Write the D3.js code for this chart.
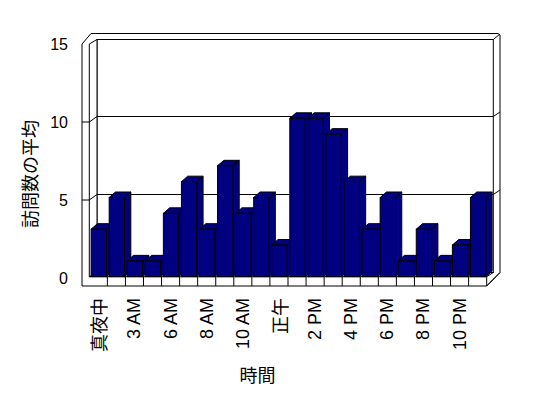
<!DOCTYPE html>
<html>
<head>
<meta charset="utf-8">
<script src="https://cdn.jsdelivr.net/npm/d3@7"></script>
<style>
  html, body { margin: 0; padding: 0; background: #fff; }
  svg { display: block; }
  text { fill: #000; }
</style>
</head>
<body>
<svg id="chart" width="548" height="398"></svg>
<script>
// ---- data ----
const categories = ["真夜中","1 AM","3 AM","5 AM","6 AM","7 AM","8 AM","9 AM","10 AM","11 AM","正午",
                    "1 PM","2 PM","3 PM","4 PM","5 PM","6 PM","7 PM","8 PM","9 PM","10 PM","11 PM"];
const values = [3,5,1,1,4,6,3,7,4,5,2,10,10,9,6,3,5,1,3,1,2,5];
const yTicks = [0,5,10,15];
const yTitle = "訪問数の平均";
const xTitle = "時間";

// ---- layout ----
const svg = d3.select("#chart");
const FONT_LATIN = "'Liberation Sans', Arial, 'Noto Sans CJK JP', sans-serif";
const FONT_CJK = "'Noto Sans CJK JP', 'Noto Sans CJK SC', sans-serif";
const BAR_FILL = "#000080";

const xOutL = 82, xInL = 89.3, xFloorR = 486.7, xBackR = 493.3, xOutR = 500;
const wallDX = 7.7, wallDY = -5.5;     // depth offset of the back wall
const barDX = 6.3, barDY = -5.5;       // depth offset of each column
const yFloorFront = 276.7, yFloorBottom = 286, yTopOuter = 33.5;

const x = d3.scaleBand().domain(categories).range([xInL, xFloorR]).padding(0);
const yAxisFront = d3.scaleLinear().domain([0, 15]).range([278, 44]);
const yBar = d3.scaleLinear().domain([0, 15]).range([yFloorFront, yFloorFront - 15.84 * 15]);
const yBack = v => yAxisFront(v) + wallDY;

const g = svg.append("g").attr("stroke", "#000").attr("stroke-width", 1).attr("fill", "none");

// outer outline of the box (walls + floor slab)
g.append("path")
  .attr("fill", "#fff")
  .attr("d", d3.line()([
    [xOutL, yAxisFront(15)], [xOutL + 9, yTopOuter], [xOutR - 2, yTopOuter], [xOutR, yTopOuter + 1.5],
    [xOutR, yBack(0)], [xFloorR, yFloorBottom], [xOutL, yFloorBottom]
  ]) + "Z");

// back wall inner face
const backTop = yBack(15) + 1;
g.append("rect")
  .attr("x", xInL + wallDX).attr("y", backTop)
  .attr("width", xBackR - (xInL + wallDX)).attr("height", yBack(0) - backTop)
  .attr("fill", "#fff");

// left wall inner side
g.append("path").attr("fill", "#fff").attr("d", d3.line()([
  [xInL, yAxisFront(15)], [xInL + wallDX, backTop], [xInL + wallDX, yBack(0)], [xInL, yFloorFront]
]) + "Z");
// top-right wall thickness corner
g.append("line").attr("x1", xBackR).attr("y1", backTop).attr("x2", xOutR).attr("y2", yTopOuter + 0.5);

// gridlines (front tick across left wall, diagonal, back wall, right thickness)
yTicks.filter(v => v > 0 && v < 15).forEach(v => {
  const yf = yAxisFront(v), yb = yBack(v);
  g.append("path").attr("d", d3.line()([
    [xOutL, yf], [xInL, yf], [xInL + wallDX, yb], [xBackR, yb], [xOutR, yb - 4.5]
  ]));
});

// floor
g.append("line").attr("x1", xInL).attr("y1", yFloorFront).attr("x2", xFloorR).attr("y2", yFloorFront);
g.append("line").attr("x1", xFloorR).attr("y1", yFloorFront).attr("x2", xBackR).attr("y2", yBack(0));
g.append("line").attr("x1", xFloorR).attr("y1", yFloorBottom).attr("x2", xOutR).attr("y2", yBack(0));
// category separators on the floor front face
categories.forEach((c, i) => {
  const xx = x(c) + x.bandwidth();
  g.append("line").attr("x1", xx).attr("y1", yFloorFront).attr("x2", xx).attr("y2", yFloorBottom);
});

// columns
const barW = x.bandwidth() * 0.85, barOff = x.bandwidth() * 0.1;
const bars = svg.append("g").attr("stroke", "#000").attr("stroke-width", 1).attr("fill", BAR_FILL)
  .attr("stroke-linejoin", "miter");
categories.forEach((c, i) => {
  const x0 = x(c) + barOff, x1 = x0 + barW;
  const yt = yBar(values[i]), yb = yBar(0);
  const bg = bars.append("g");
  // side
  bg.append("path").attr("d", d3.line()([
    [x1, yb], [x1, yt], [x1 + barDX, yt + barDY], [x1 + barDX, yb + barDY]
  ]) + "Z");
  // top
  bg.append("path").attr("d", d3.line()([
    [x0, yt], [x0 + barDX, yt + barDY], [x1 + barDX, yt + barDY], [x1, yt]
  ]) + "Z");
  // front
  bg.append("rect").attr("x", x0).attr("y", yt).attr("width", barW).attr("height", yb - yt);
});

// y tick labels
svg.append("g").selectAll("text").data(yTicks).join("text")
  .attr("x", 68).attr("y", d => yAxisFront(d))
  .attr("text-anchor", "end").attr("dominant-baseline", "central")
  .attr("font-family", FONT_LATIN).attr("font-size", 16)
  .text(d => d);

// x tick labels (every second category)
svg.append("g").selectAll("text")
  .data(categories.filter((c, i) => i % 2 === 0))
  .join("text")
  .attr("transform", d => `translate(${x(d) + x.bandwidth() / 2},298) rotate(-90)`)
  .attr("text-anchor", "end").attr("dominant-baseline", "central")
  .attr("font-family", d => /[A-Za-z0-9]/.test(d) ? FONT_LATIN : FONT_CJK)
  .attr("font-size", 18)
  .text(d => d);

// axis titles
svg.append("text")
  .attr("transform", "translate(29,174) rotate(-90)")
  .attr("text-anchor", "middle").attr("dominant-baseline", "central")
  .attr("font-family", FONT_CJK).attr("font-size", 18)
  .text(yTitle);
svg.append("text")
  .attr("x", 257.5).attr("y", 374)
  .attr("text-anchor", "middle").attr("dominant-baseline", "central")
  .attr("font-family", FONT_CJK).attr("font-size", 18)
  .text(xTitle);
</script>
</body>
</html>
